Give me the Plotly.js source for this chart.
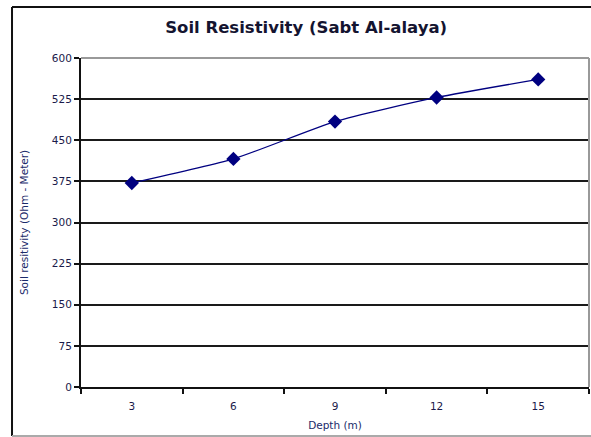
<!DOCTYPE html>
<html>
<head>
<meta charset="utf-8">
<script src="https://cdn.plot.ly/plotly-3.0.1.min.js"></script>
<style>
html,body{margin:0;padding:0;background:#fff;}
#chart{width:591px;height:437px;}
</style>
</head>
<body>
<div id="chart"></div>
<script>
var depthLabels = ['3', '6', '9', '12', '15'];
var resistivity = [372, 416, 484, 528, 561];
var yTicks = [0, 75, 150, 225, 300, 375, 450, 525, 600];

var trace = {
  x: depthLabels,
  y: resistivity,
  type: 'scatter',
  mode: 'lines+markers',
  line: {color: '#000080', width: 1.3, shape: 'spline', smoothing: 0.6},
  marker: {symbol: 'diamond', size: 11, color: '#000080'},
  cliponaxis: false,
  hoverinfo: 'none'
};

var layout = {
  width: 591, height: 437,
  margin: {l: 81, r: 2, t: 58, b: 50},
  paper_bgcolor: '#fff',
  plot_bgcolor: '#fff',
  showlegend: false,
  font: {family: 'DejaVu Sans, Verdana, sans-serif', color: '#1a1a4a'},
  title: {
    text: '<b>Soil Resistivity (Sabt Al-alaya)</b>',
    font: {size: 16.5, color: '#141430', family: 'DejaVu Sans, Verdana, sans-serif'},
    x: 0.518, xanchor: 'center', y: 0.937, yanchor: 'middle'
  },
  xaxis: {
    type: 'category',
    range: [-0.5, 4.5],
    tickson: 'boundaries',
    ticks: 'outside', ticklen: 5, tickwidth: 2, tickcolor: '#111',
    ticklabelstandoff: 8,
    showline: true, linecolor: '#111', linewidth: 2,
    showgrid: false, zeroline: false,
    tickfont: {size: 10.5, color: '#1a1a4a'},
    title: {text: 'Depth (m)', font: {size: 10.5, color: '#1a2a6a'}, standoff: 11},
    fixedrange: true
  },
  yaxis: {
    range: [0, 600],
    tickvals: yTicks,
    ticktext: yTicks.map(String),
    ticks: 'outside', ticklen: 5, tickwidth: 2, tickcolor: '#111',
    showline: true, linecolor: '#111', linewidth: 2,
    showgrid: true, gridcolor: '#1a1a1a', gridwidth: 2,
    zeroline: false,
    tickfont: {size: 10.5, color: '#1a1a4a'},
    title: {text: 'Soil resitivity (Ohm - Meter)', font: {size: 10.5, color: '#1a2a6a'}, standoff: 21},
    fixedrange: true
  },
  shapes: [
    {type: 'line', xref: 'paper', yref: 'paper', x0: 0, x1: 1, y0: 1, y1: 1,
     line: {color: '#999', width: 2}, layer: 'above'},
    {type: 'line', xref: 'paper', yref: 'paper', x0: 1, x1: 1, y0: 0, y1: 1,
     line: {color: '#999', width: 2}, layer: 'above'},
    {type: 'line', xref: 'paper', yref: 'paper', x0: -0.1358, x1: -0.1358, y0: -0.149, y1: 1.155,
     line: {color: '#111', width: 2}},
    {type: 'line', xref: 'paper', yref: 'paper', x0: -0.1358, x1: 1.01, y0: 1.155, y1: 1.155,
     line: {color: '#111', width: 2}},
    {type: 'line', xref: 'paper', yref: 'paper', x0: -0.1358, x1: 1.01, y0: -0.149, y1: -0.149,
     line: {color: '#aaa', width: 2}}
  ]
};

Plotly.newPlot('chart', [trace], layout, {displayModeBar: false, staticPlot: true});
</script>
</body>
</html>
